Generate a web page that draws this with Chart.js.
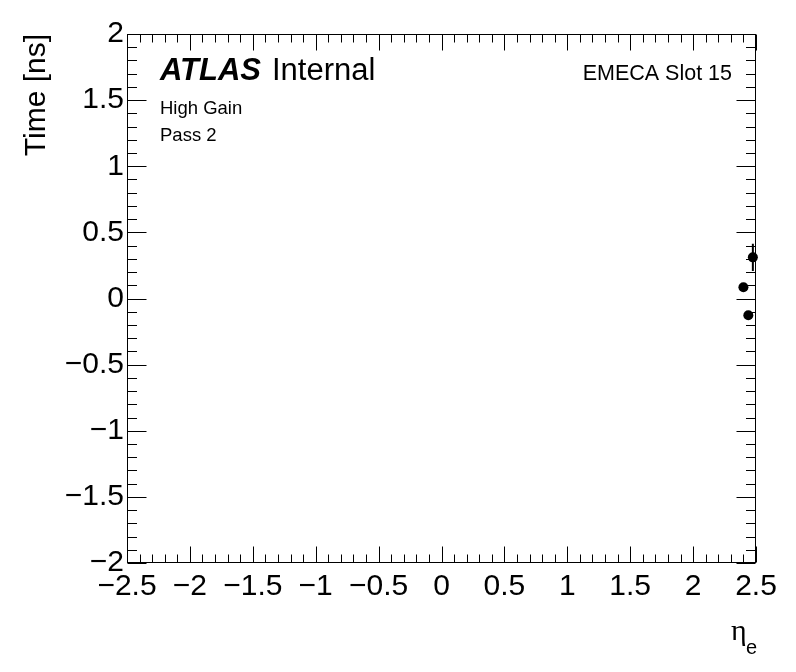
<!DOCTYPE html>
<html>
<head>
<meta charset="utf-8">
<script src="https://cdn.jsdelivr.net/npm/chart.js@4.4.1/dist/chart.umd.min.js"></script>
<style>
    html, body { margin: 0; padding: 0; background: #fff; }
    #wrap { width: 796px; height: 672px; }
</style>
</head>
<body>
<div id="wrap"><canvas id="timeChart" width="796" height="672"></canvas></div>
<script>
// data
const etaValues = [2.400, 2.439, 2.475];
const timeValues = [0.085, -0.127, 0.311];
const timeErrors = [0.02, 0.02, 0.103];

// axis ticks
const xTickValues = [-2.5, -2, -1.5, -1, -0.5, 0, 0.5, 1, 1.5, 2, 2.5];
const yTickValues = [-2, -1.5, -1, -0.5, 0, 0.5, 1, 1.5, 2];

const FONT = "'Liberation Sans', Arial, Helvetica, sans-serif";

Chart.defaults.color = '#000';
Chart.defaults.font.family = FONT;

function rootLabel(v) {
    const s = String(Math.round(v * 10) / 10);
    return s.replace('-', '\u2212');
}

// frame, ROOT style inner ticks, error bars and the text labels
const rootStyle = {
    id: 'rootStyle',
    afterDatasetsDraw(chart) {
        const { ctx, scales: { x, y } } = chart;
        ctx.save();
        ctx.strokeStyle = '#000';
        ctx.lineWidth = 2;
        etaValues.forEach((eta, i) => {
            const px = x.getPixelForValue(eta);
            ctx.beginPath();
            ctx.moveTo(px, y.getPixelForValue(timeValues[i] - timeErrors[i]));
            ctx.lineTo(px, y.getPixelForValue(timeValues[i] + timeErrors[i]));
            ctx.stroke();
        });
        ctx.restore();
    },
    afterDraw(chart) {
        const { ctx, chartArea: a, scales: { x, y } } = chart;
        ctx.save();
        ctx.strokeStyle = '#000';
        ctx.lineWidth = 1;
        const L = Math.round(a.left) + 0.5, R = Math.round(a.right) - 0.5;
        const T = Math.round(a.top) + 0.5, B = Math.round(a.bottom) - 0.5;
        ctx.strokeRect(L, T, R - L, B - T);

        ctx.beginPath();
        for (let i = Math.round(x.min * 10); i <= Math.round(x.max * 10); i++) {
            const px = Math.round(x.getPixelForValue(i / 10)) + 0.5;
            const len = i % 5 === 0 ? 16 : 8;
            ctx.moveTo(px, B); ctx.lineTo(px, B - len);
            ctx.moveTo(px, T); ctx.lineTo(px, T + len);
        }
        for (let i = Math.round(y.min * 10); i <= Math.round(y.max * 10); i++) {
            const py = Math.round(y.getPixelForValue(i / 10)) + 0.5;
            const len = i % 5 === 0 ? 19 : 9.5;
            ctx.moveTo(L, py); ctx.lineTo(L + len, py);
            ctx.moveTo(R, py); ctx.lineTo(R - len, py);
        }
        ctx.stroke();

        ctx.fillStyle = '#000';
        ctx.textBaseline = 'alphabetic';
        ctx.textAlign = 'left';
        ctx.font = `italic bold 31px ${FONT}`;
        ctx.fillText('ATLAS', 160, 80);
        ctx.font = `31px ${FONT}`;
        ctx.fillText('Internal', 272, 80);
        ctx.font = `18.5px ${FONT}`;
        ctx.fillText('High Gain', 160, 114);
        ctx.fillText('Pass 2', 160, 141);
        ctx.textAlign = 'right';
        ctx.font = `21.5px ${FONT}`;
        ctx.fillText('EMECA Slot 15', 732, 80);

        // x axis title: eta with subscript e
        ctx.textAlign = 'left';
        ctx.font = "30px 'Liberation Serif', 'DejaVu Serif', serif";
        ctx.fillText('\u03b7', 731, 640);
        ctx.font = `20px ${FONT}`;
        ctx.fillText('e', 746, 654);
        ctx.restore();
    }
};

const ctx = document.getElementById('timeChart').getContext('2d');
const timeChart = new Chart(ctx, {
    type: 'scatter',
    data: {
        datasets: [{
            data: etaValues.map((eta, i) => ({ x: eta, y: timeValues[i] })),
            backgroundColor: '#000',
            borderWidth: 0,
            pointRadius: 5,
            pointHoverRadius: 5,
            clip: false
        }]
    },
    options: {
        responsive: false,
        animation: false,
        events: [],
        layout: { padding: { top: 34, right: 40, left: 0, bottom: 0 } },
        plugins: {
            legend: { display: false },
            tooltip: { enabled: false }
        },
        scales: {
            x: {
                type: 'linear',
                min: -2.5,
                max: 2.5,
                afterBuildTicks: s => { s.ticks = xTickValues.map(v => ({ value: v })); },
                afterFit: s => { s.height = 109; },
                grid: { display: false, drawTicks: false },
                border: { display: false },
                ticks: {
                    font: { size: 30 },
                    padding: 6,
                    maxRotation: 0,
                    autoSkip: false,
                    callback: v => rootLabel(v)
                }
            },
            y: {
                type: 'linear',
                min: -2,
                max: 2,
                afterBuildTicks: s => { s.ticks = yTickValues.map(v => ({ value: v })); },
                afterFit: s => { s.width = 127; },
                grid: { display: false, drawTicks: false },
                border: { display: false },
                title: {
                    display: true,
                    text: 'Time [ns]',
                    align: 'end',
                    font: { size: 30 },
                    padding: { top: 19, bottom: 0 }
                },
                ticks: {
                    font: { size: 30 },
                    padding: 3,
                    autoSkip: false,
                    callback: v => rootLabel(v)
                }
            }
        }
    },
    plugins: [rootStyle]
});
</script>
</body>
</html>
